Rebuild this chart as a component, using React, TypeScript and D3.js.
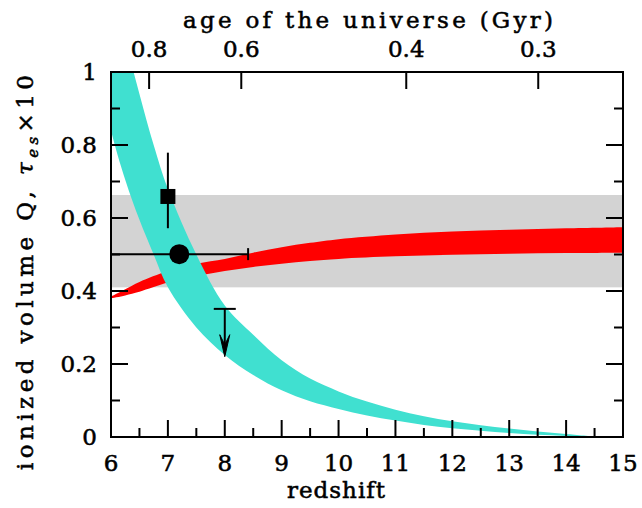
import React from "react";
import * as d3 from "d3";

// ---------- data ----------
const cyanZ = [5.9, 6.0, 6.25, 6.5, 6.75, 7.0, 7.5, 8.0, 8.5, 9.0, 9.5, 10.0, 10.5, 11.0, 11.5, 12.0, 12.5, 13.0, 13.5, 14.0, 14.5];
const cyanUpper = [1.35, 1.27, 1.09, 0.94, 0.8, 0.68, 0.5, 0.36, 0.28, 0.21, 0.16, 0.125, 0.097, 0.075, 0.057, 0.043, 0.032, 0.023, 0.015, 0.008, 0.001];
const cyanLower = [0.92, 0.84, 0.705, 0.595, 0.5, 0.41, 0.3, 0.225, 0.17, 0.128, 0.098, 0.077, 0.059, 0.045, 0.033, 0.024, 0.017, 0.011, 0.006, 0.003, 0.0];

const redZ = [6.0, 6.25, 6.5, 7.0, 7.5, 8.0, 8.5, 9.0, 9.5, 10.0, 11.0, 12.0, 13.0, 14.0, 15.0];
const redUpper = [0.385, 0.405, 0.425, 0.455, 0.475, 0.488, 0.505, 0.52, 0.532, 0.542, 0.555, 0.563, 0.568, 0.572, 0.575];
const redLower = [0.38, 0.388, 0.398, 0.423, 0.441, 0.455, 0.466, 0.475, 0.482, 0.488, 0.495, 0.499, 0.502, 0.504, 0.505];

const grayBand = [0.41, 0.663];

// square point with vertical error bar
const squarePoint = { z: 7.0, q: 0.659, qLo: 0.572, qHi: 0.779 };
// circle point with horizontal error bar
const circlePoint = { z: 7.2, q: 0.501, zLo: 5.98, zHi: 8.41 };
// upper limit
const upperLimit = { z: 8.0, q: 0.351, arrowTo: 0.22 };

const xTicksMajor = [6, 7, 8, 9, 10, 11, 12, 13, 14, 15];
const xTicksMinor = [6.5, 7.5, 8.5, 9.5, 10.5, 11.5, 12.5, 13.5, 14.5];
const yTicksMajor = [0, 0.2, 0.4, 0.6, 0.8, 1];
const yTicksMinor = [0.1, 0.3, 0.5, 0.7, 0.9];
const yTickLabels = ["0", "0.2", "0.4", "0.6", "0.8", "1"];

const ageTickLabels = ["0.8", "0.6", "0.4", "0.3"];
const ageTickRedshift = [6.67, 8.29, 11.19, 13.51];

// ---------- layout ----------
const W = 642, H = 508;
const L = 111, R = 623, T = 72, B = 437;
const FONT = "'DejaVu Serif', serif";

export default function App() {
  const x = d3.scaleLinear().domain([6, 15]).range([L, R]);
  const y = d3.scaleLinear().domain([0, 1]).range([B, T]);

  const cyanArea = d3
    .area<number>()
    .x((_, i) => x(cyanZ[i]))
    .y0((_, i) => y(cyanLower[i]))
    .y1((_, i) => y(cyanUpper[i]))
    .curve(d3.curveCatmullRom.alpha(0.5))(cyanZ);

  const redArea = d3
    .area<number>()
    .x((_, i) => x(redZ[i]))
    .y0((_, i) => y(redLower[i]))
    .y1((_, i) => y(redUpper[i]))
    .curve(d3.curveCatmullRom.alpha(0.5))(redZ);

  const major = 17, minor = 9;
  const sw = 2;
  const fs = 23;
  const textStyle = { fontFamily: FONT, fontSize: fs, stroke: "#000", strokeWidth: 0.55 } as const;

  const ulx = x(upperLimit.z);
  const tipY = y(upperLimit.arrowTo);

  return (
    <svg width={W} height={H} style={{ position: "absolute", left: 0, top: 0, background: "#fff" }}>
      <defs>
        <clipPath id="plotclip">
          <rect x={L} y={T} width={R - L} height={B - T} />
        </clipPath>
      </defs>
      <g clipPath="url(#plotclip)">
        <rect x={L} y={y(grayBand[1])} width={R - L} height={y(grayBand[0]) - y(grayBand[1])} fill="#d3d3d3" />
        <path d={redArea || ""} fill="#ff0000" />
        <path d={cyanArea || ""} fill="#40e0d0" />
        {/* square with vertical error bar */}
        <line x1={x(squarePoint.z)} x2={x(squarePoint.z)} y1={y(squarePoint.qLo)} y2={y(squarePoint.qHi)} stroke="#000" strokeWidth={2} />
        <rect x={x(squarePoint.z) - 7.5} y={y(squarePoint.q) - 7.5} width={15} height={15} fill="#000" />
        {/* circle with horizontal error bar */}
        <line x1={x(circlePoint.zLo)} x2={x(circlePoint.zHi)} y1={y(circlePoint.q)} y2={y(circlePoint.q)} stroke="#000" strokeWidth={2} />
        <line x1={x(circlePoint.zHi)} x2={x(circlePoint.zHi)} y1={y(circlePoint.q) - 6} y2={y(circlePoint.q) + 6} stroke="#000" strokeWidth={2} />
        <circle cx={x(circlePoint.z)} cy={y(circlePoint.q)} r={10} fill="#000" />
        {/* upper limit */}
        <line x1={ulx - 11} x2={ulx + 11} y1={y(upperLimit.q)} y2={y(upperLimit.q)} stroke="#000" strokeWidth={2} />
        <line x1={ulx} x2={ulx} y1={y(upperLimit.q)} y2={tipY - 4} stroke="#000" strokeWidth={2} />
        <path d={`M${ulx},${tipY} L${ulx - 5},${tipY - 22} L${ulx},${tipY - 12} L${ulx + 5},${tipY - 22} Z`} fill="#000" stroke="#000" strokeWidth={1} />
      </g>

      {/* frame */}
      <rect x={L} y={T} width={R - L} height={B - T} fill="none" stroke="#000" strokeWidth={sw} />

      {/* bottom ticks */}
      {xTicksMajor.map((v) => (
        <line key={"xm" + v} x1={x(v)} x2={x(v)} y1={B} y2={B - major} stroke="#000" strokeWidth={sw} />
      ))}
      {xTicksMinor.map((v) => (
        <line key={"xn" + v} x1={x(v)} x2={x(v)} y1={B} y2={B - minor} stroke="#000" strokeWidth={sw} />
      ))}
      {xTicksMajor.map((v) => (
        <text key={"xl" + v} x={x(v)} y={471} textAnchor="middle" {...textStyle}>
          {v}
        </text>
      ))}

      {/* top age ticks */}
      {ageTickRedshift.map((v, i) => (
        <g key={"age" + i}>
          <line x1={x(v)} x2={x(v)} y1={T} y2={T + major} stroke="#000" strokeWidth={sw} />
          <text x={x(v)} y={57} textAnchor="middle" {...textStyle}>
            {ageTickLabels[i]}
          </text>
        </g>
      ))}

      {/* left / right ticks */}
      {yTicksMajor.map((v, i) => (
        <g key={"ym" + v}>
          <line x1={L} x2={L + major} y1={y(v)} y2={y(v)} stroke="#000" strokeWidth={sw} />
          <line x1={R} x2={R - major} y1={y(v)} y2={y(v)} stroke="#000" strokeWidth={sw} />
          <text x={97} y={y(v) + 8} textAnchor="end" {...textStyle}>
            {yTickLabels[i]}
          </text>
        </g>
      ))}
      {yTicksMinor.map((v) => (
        <g key={"yn" + v}>
          <line x1={L} x2={L + minor} y1={y(v)} y2={y(v)} stroke="#000" strokeWidth={sw} />
          <line x1={R} x2={R - minor} y1={y(v)} y2={y(v)} stroke="#000" strokeWidth={sw} />
        </g>
      ))}

      {/* axis titles */}
      <text x={183} y={28} {...textStyle} textLength={370} lengthAdjust="spacing">
        age of the universe (Gyr)
      </text>
      <text x={287} y={498} {...textStyle} textLength={98} lengthAdjust="spacing">
        redshift
      </text>
      <text transform={`translate(33,470) rotate(-90)`} {...textStyle} textLength={395} lengthAdjust="spacing">
        <tspan>ionized volume Q, </tspan>
        <tspan fontStyle="italic">τ</tspan>
        <tspan fontSize={15} fontStyle="italic" dy={5}>es</tspan>
        <tspan dy={-5}>×10</tspan>
      </text>
    </svg>
  );
}
